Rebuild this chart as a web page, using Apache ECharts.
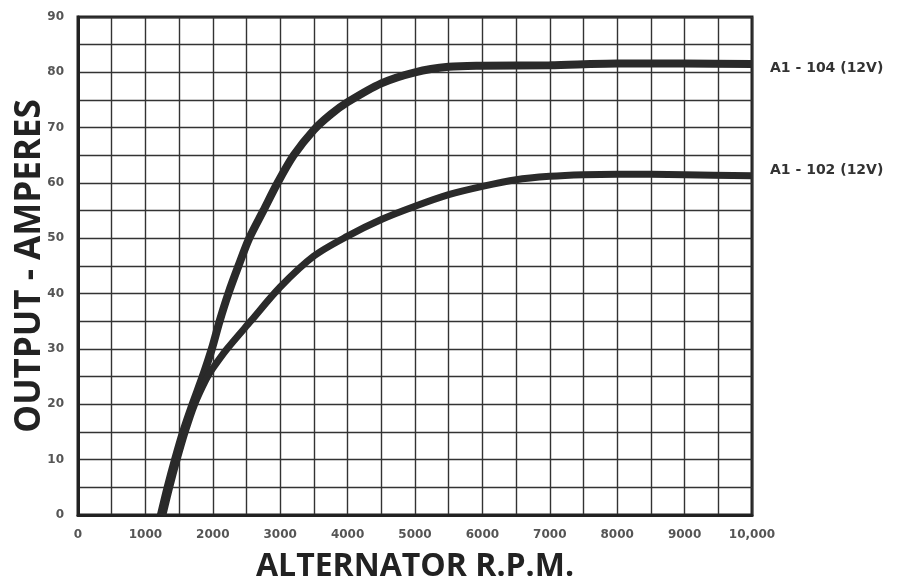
<!DOCTYPE html>
<html>
<head>
<meta charset="utf-8">
<script src="https://cdn.jsdelivr.net/npm/echarts@6/dist/echarts.min.js"></script>
<style>
html,body{margin:0;padding:0;background:#fff;}
#chart{width:902px;height:577px;}
</style>
</head>
<body>
<div id="chart"></div>
<script>
// RPM / amperes points
const rpm104 = [1230, 1330, 1440, 1560, 1700, 1850, 1985, 2100, 2230, 2380, 2540, 2750, 2960, 3200, 3500, 3750, 4000, 4500, 5000, 5500, 6000, 7000, 8000, 9000, 10000];
const amp104 = [0, 5, 10, 15, 20, 25, 30, 35, 40, 45, 50, 55, 60, 65, 69.6, 72.4, 74.6, 78, 80, 81, 81.2, 81.3, 81.6, 81.6, 81.5];
const rpm102 = [1260, 1360, 1470, 1590, 1730, 1900, 2000, 2210, 2560, 3000, 3500, 4000, 4500, 5000, 5500, 6000, 6500, 7000, 7500, 8000, 9000, 10000];
const amp102 = [0, 5, 10, 15, 20, 24.5, 26.5, 30, 35, 41.2, 46.8, 50.4, 53.4, 55.8, 57.9, 59.4, 60.6, 61.2, 61.5, 61.6, 61.5, 61.3];
const seriesNames = ['A1 - 104 (12V)', 'A1 - 102 (12V)'];
const xTitle = 'ALTERNATOR R.P.M.';
const yTitle = 'OUTPUT - AMPERES';

const pairs = (xs, ys) => xs.map((x, i) => [x, ys[i]]);

const chart = echarts.init(document.getElementById('chart'));
chart.setOption({
  animation: false,
  backgroundColor: '#fff',
  grid: {left: 78, right: 150, top: 17, bottom: 62, outerBoundsMode: 'none', show: true, borderColor: '#222', borderWidth: 3, backgroundColor: 'transparent'},
  xAxis: {
    type: 'value', min: 0, max: 10000, interval: 500,
    name: xTitle, nameLocation: 'middle', nameGap: 36, nameMoveOverlap: false,
    nameTextStyle: {fontFamily: 'Open Sans', fontWeight: 'bold', fontSize: 32, color: '#222'},
    axisLine: {show: true, lineStyle: {color: '#222', width: 3}},
    axisTick: {show: false},
    axisLabel: {
      margin: 14, fontFamily: 'DejaVu Sans', fontSize: 12, fontWeight: 'bold', color: '#555',
      formatter: v => v % 1000 === 0 ? (v === 10000 ? '10,000' : String(v)) : ''
    },
    splitLine: {show: true, lineStyle: {color: '#333', width: 1.4}}
  },
  yAxis: {
    type: 'value', min: 0, max: 90, interval: 5,
    name: yTitle, nameLocation: 'middle', nameGap: 30, nameRotate: 90, nameMoveOverlap: false,
    nameTextStyle: {fontFamily: 'Open Sans', fontWeight: 'bold', fontSize: 35, color: '#222'},
    axisLine: {show: true, lineStyle: {color: '#222', width: 3}},
    axisTick: {show: false},
    axisLabel: {
      margin: 14, fontFamily: 'DejaVu Sans', fontSize: 12, fontWeight: 'bold', color: '#555',
      formatter: v => v % 10 === 0 ? String(v) : ''
    },
    splitLine: {show: true, lineStyle: {color: '#333', width: 1.4}}
  },
  series: [
    {
      name: seriesNames[0], type: 'line', smooth: 0.3, symbol: 'none',
      data: pairs(rpm104, amp104),
      lineStyle: {color: '#2a2a2a', width: 8},
      endLabel: {show: true, formatter: seriesNames[0], distance: 18, offset: [0, 4],
        fontFamily: 'DejaVu Sans', fontSize: 14, fontWeight: 'bold', color: '#333'}
    },
    {
      name: seriesNames[1], type: 'line', smooth: 0.3, symbol: 'none',
      data: pairs(rpm102, amp102),
      lineStyle: {color: '#2a2a2a', width: 7},
      endLabel: {show: true, formatter: seriesNames[1], distance: 18, offset: [0, -5],
        fontFamily: 'DejaVu Sans', fontSize: 14, fontWeight: 'bold', color: '#333'}
    }
  ]
});
</script>
</body>
</html>
